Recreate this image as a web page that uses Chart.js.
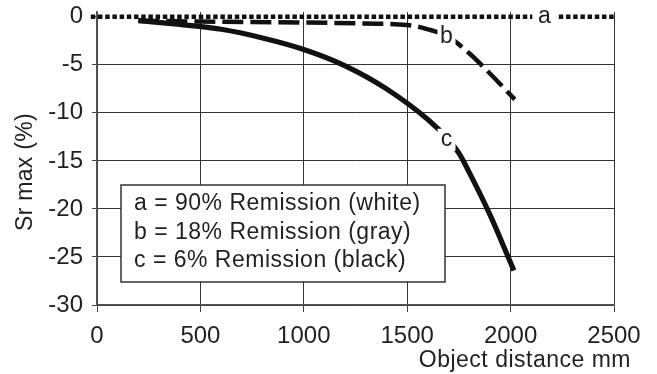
<!DOCTYPE html>
<html><head><meta charset="utf-8">
<script src="https://cdn.jsdelivr.net/npm/chart.js@4"></script>
<style>html,body{margin:0;padding:0;background:#fff}#wrap{width:657px;height:374px}</style>
</head><body><div id="wrap"><canvas id="c" width="657" height="374"></canvas></div>
<script>
// ---- data ----
const aDist = [-30, 2500];
const aSr = [0, 0];
const bDist = [200, 500, 1000, 1300, 1500, 1600, 1700, 1800, 1900, 2020];
const bSr = [-0.4, -0.5, -0.6, -0.7, -0.85, -1.3, -2.1, -3.8, -5.9, -8.6];
const cDist = [200, 400, 600, 800, 1000, 1200, 1400, 1600, 1700, 1750, 1800, 1900, 2000, 2016];
const cSr = [-0.4, -0.8, -1.3, -2.2, -3.4, -5.1, -7.5, -10.7, -12.8, -14.2, -16.2, -20.6, -25.6, -26.4];
const xTicks = [0, 500, 1000, 1500, 2000, 2500];
const yTicks = [0, -5, -10, -15, -20, -25, -30];
const curveNames = ['a', 'b', 'c'];
const curveLabelDist = [2163, 1690, 1690];
const curveLabelSr = [0, -1.9, -12.8];
const legendLines = ['a = 90% Remission (white)', 'b = 18% Remission (gray)', 'c = 6% Remission (black)'];
const xTitle = 'Object distance mm';
const yTitle = 'Sr max (%)';

const INK = '#231f20';
const FONT = '"Liberation Sans", Arial, Helvetica, sans-serif';
const toPts = (xs, ys) => xs.map((x, i) => ({x: x, y: ys[i]}));

const annotate = {
  id: 'annotate',
  afterDatasetsDraw(chart) {
    const ctx = chart.ctx, xs = chart.scales.x, ys = chart.scales.y;
    ctx.save();
    ctx.font = '23px ' + FONT;
    ctx.textAlign = 'center';
    ctx.textBaseline = 'alphabetic';
    curveNames.forEach((n, i) => {
      const px = xs.getPixelForValue(curveLabelDist[i]);
      const py = ys.getPixelForValue(curveLabelSr[i]);
      const w = i === 0 ? 24 : 18, h = i === 0 ? 14 : 22;
      ctx.fillStyle = '#fff';
      ctx.fillRect(px - w / 2, py - h / 2, w, h);
      ctx.fillStyle = INK;
      ctx.fillText(n, px, py + (n === 'b' ? 8 : 6));
    });
    // legend box
    const L = 121, T = 185, W = 324, H = 97;
    ctx.fillStyle = '#fff';
    ctx.fillRect(L, T, W, H);
    ctx.strokeStyle = '#333';
    ctx.lineWidth = 1.5;
    ctx.strokeRect(L, T, W, H);
    ctx.fillStyle = INK;
    ctx.textAlign = 'left';
    ctx.letterSpacing = '0.5px';
    legendLines.forEach((t, i) => ctx.fillText(t, 134, 210 + i * 28.5));
    // axis titles
    ctx.textAlign = 'right';
    ctx.fillText(xTitle, 631, 367);
    ctx.letterSpacing = '0.3px';
    ctx.translate(32, 172);
    ctx.rotate(-Math.PI / 2);
    ctx.textAlign = 'center';
    ctx.fillText(yTitle, 0, 0);
    ctx.restore();
  }
};

new Chart(document.getElementById('c'), {
  type: 'line',
  data: {
    datasets: [
      {data: toPts(aDist, aSr), borderColor: '#111', borderWidth: 4.5, borderDash: [4.5, 2.7], pointRadius: 0, clip: false},
      {data: toPts(bDist, bSr), borderColor: '#111', borderWidth: 4.5, borderDash: [21, 7], pointRadius: 0, cubicInterpolationMode: 'monotone'},
      {data: toPts(cDist, cSr), borderColor: '#111', borderWidth: 5.2, pointRadius: 0, cubicInterpolationMode: 'monotone'}
    ]
  },
  options: {
    responsive: false, animation: false, devicePixelRatio: 1,
    layout: {padding: {left: 0, right: 43, top: 12, bottom: 0}},
    plugins: {legend: {display: false}, tooltip: {enabled: false}},
    scales: {
      x: {
        type: 'linear', min: 0, max: 2500,
        afterBuildTicks: s => { s.ticks = xTicks.map(v => ({value: v})); },
        afterFit: s => { s.height = 69; s.paddingLeft = 0; s.paddingRight = 0; },
        grid: {color: '#333', lineWidth: 1, tickLength: 7, tickColor: '#444'},
        border: {color: '#555', width: 1.6},
        ticks: {color: INK, font: {family: FONT, size: 24}, padding: 10, maxRotation: 0, callback: v => String(v)}
      },
      y: {
        type: 'linear', min: -30, max: 0.5,
        afterBuildTicks: s => { s.ticks = yTicks.map(v => ({value: v})); },
        afterFit: s => { s.width = 97; s.paddingTop = 0; s.paddingBottom = 0; },
        grid: {color: c => (c.tick && c.tick.value === 0 ? 'rgba(0,0,0,0)' : '#333'), lineWidth: 1, tickLength: 5, tickColor: '#444'},
        border: {color: '#555', width: 1.6},
        ticks: {color: INK, font: {family: FONT, size: 24}, padding: 9, callback: v => String(v)}
      }
    }
  },
  plugins: [annotate]
});
</script>
</body></html>
